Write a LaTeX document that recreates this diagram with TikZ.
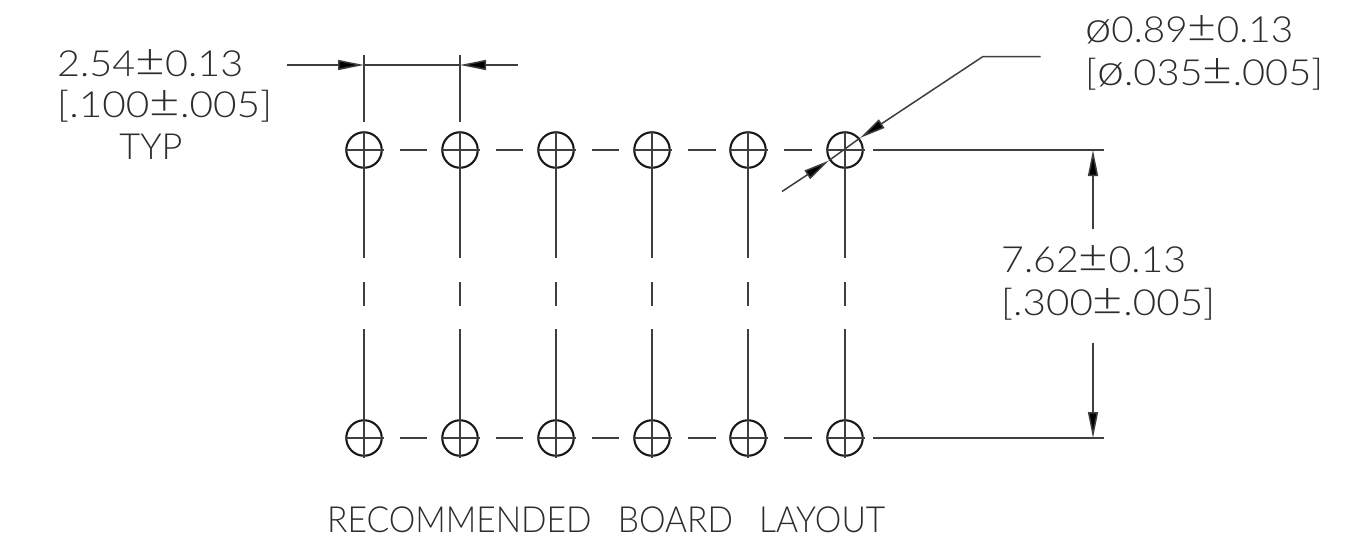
\documentclass[tikz,border=0pt]{standalone}
\usepackage{fontspec}
\usepackage{graphicx}
\setmainfont{Lato Light}
\usetikzlibrary{arrows.meta}
\definecolor{ink}{RGB}{62,62,62}
\definecolor{txt}{RGB}{45,45,45}
\newcommand{\fitw}[2]{\resizebox{#1pt}{\height}{#2}}
\newcommand{\dia}{\scalebox{1.22}[1.2]{ø}}
\newcommand{\pmm}{\scalebox{1.3}{±}}
\tikzset{
  every picture/.style={x=1pt,y=-1pt},
  thin line/.style={draw=ink,line width=1.5pt},
  hole line/.style={draw=black!90,line width=2.1pt},
  headtip/.style={-{Stealth[length=26pt,width=10pt,inset=0pt,fill=black]}},
  dim/.style={thin line,headtip},
  lab/.style={inner sep=0pt,text=txt,font=\fontsize{36}{36}\selectfont,anchor=base west},
  labc/.style={lab,anchor=base}
}
\begin{document}
\begin{tikzpicture}
\useasboundingbox (0,0) rectangle (1350,541);
\foreach \n/\x in {1/364,2/460,3/556,4/652,5/748,6/845}{
  \foreach \r/\y in {t/150,b/438}{
    \node[circle,hole line,minimum size=35.5pt,inner sep=0pt] (h\r\n) at (\x,\y) {};
    \draw[thin line] (\x-19.5,\y) -- (\x+19.5,\y) (\x,\y-19.5) -- (\x,\y+19.5);
  }
  \coordinate (vA\n) at (\x,258); \coordinate (vB\n) at (\x,282);
  \coordinate (vC\n) at (\x,306); \coordinate (vD\n) at (\x,329);
  \draw[thin line] (ht\n.south) -- (vA\n) (vB\n) -- (vC\n) (vD\n) -- (hb\n.north);
}
\foreach \a/\b/\x in {1/2/399.5,2/3/495.5,3/4/591.5,4/5/688,5/6/784}{
  \foreach \r/\y in {t/150,b/438}{
    \draw[thin line] (\x,\y) -- (\x+27.5,\y);
  }
}
% extension lines
\coordinate (e1) at (364,55); \coordinate (e1b) at (364,122);
\coordinate (e2) at (460,55); \coordinate (e2b) at (460,122);
\draw[thin line] (e1) -- (e1b) (e2) -- (e2b);
\coordinate (d1) at (287,65); \coordinate (d1t) at (364,65);
\coordinate (d2) at (518,65); \coordinate (d2t) at (460,65);
\draw[dim] (d1) -- (d1t);
\draw[dim] (d2) -- (d2t);
\draw[thin line] (d1t) -- (d2t);
% right extensions
\coordinate (r1) at (873,150); \coordinate (r1e) at (1103.5,150);
\coordinate (r2) at (873,438); \coordinate (r2e) at (1103.5,438);
\draw[thin line] (r1) -- (r1e) (r2) -- (r2e);
\coordinate (a1) at (1093,229); \coordinate (a1t) at (1093,150);
\coordinate (a2) at (1093,343); \coordinate (a2t) at (1093,438);
\draw[dim] (a1) -- (a1t);
\draw[dim] (a2) -- (a2t);
% leaders
\coordinate (l0) at (1040.5,56.5); \coordinate (l1) at (983,56.5); \coordinate (l2) at (860,138);
\draw[thin line,headtip] (l0) -- (l1) -- (l2);
\coordinate (l3) at (782,191.5); \coordinate (l4) at (829,160.5);
\draw[dim] (l3) -- (l4);
\draw[thin line] (l4) -- (l2);
% text
\node[lab] (t1) at (57,76) {\fitw{186}{2.54\pmm 0.13}};
\node[lab] (t2) at (57,117.5) {\fitw{215}{[.100\pmm.005]}};
\node[labc] (t3) at (151,159.5) {TYP};
\node[lab] (t4) at (1085,42.5) {\fitw{208}{\dia 0.89\pmm 0.13}};
\node[lab] (t5) at (1085,85) {\fitw{238}{[\dia.035\pmm.005]}};
\node[lab] (t6) at (1001,272) {\fitw{185}{7.62\pmm 0.13}};
\node[lab] (t7) at (1001,315) {\fitw{214}{[.300\pmm.005]}};
\node[lab] (t8) at (327,532) {\fitw{558}{RECOMMENDED\hspace{0.78em}BOARD\hspace{0.78em}LAYOUT}};
\end{tikzpicture}
\end{document}
